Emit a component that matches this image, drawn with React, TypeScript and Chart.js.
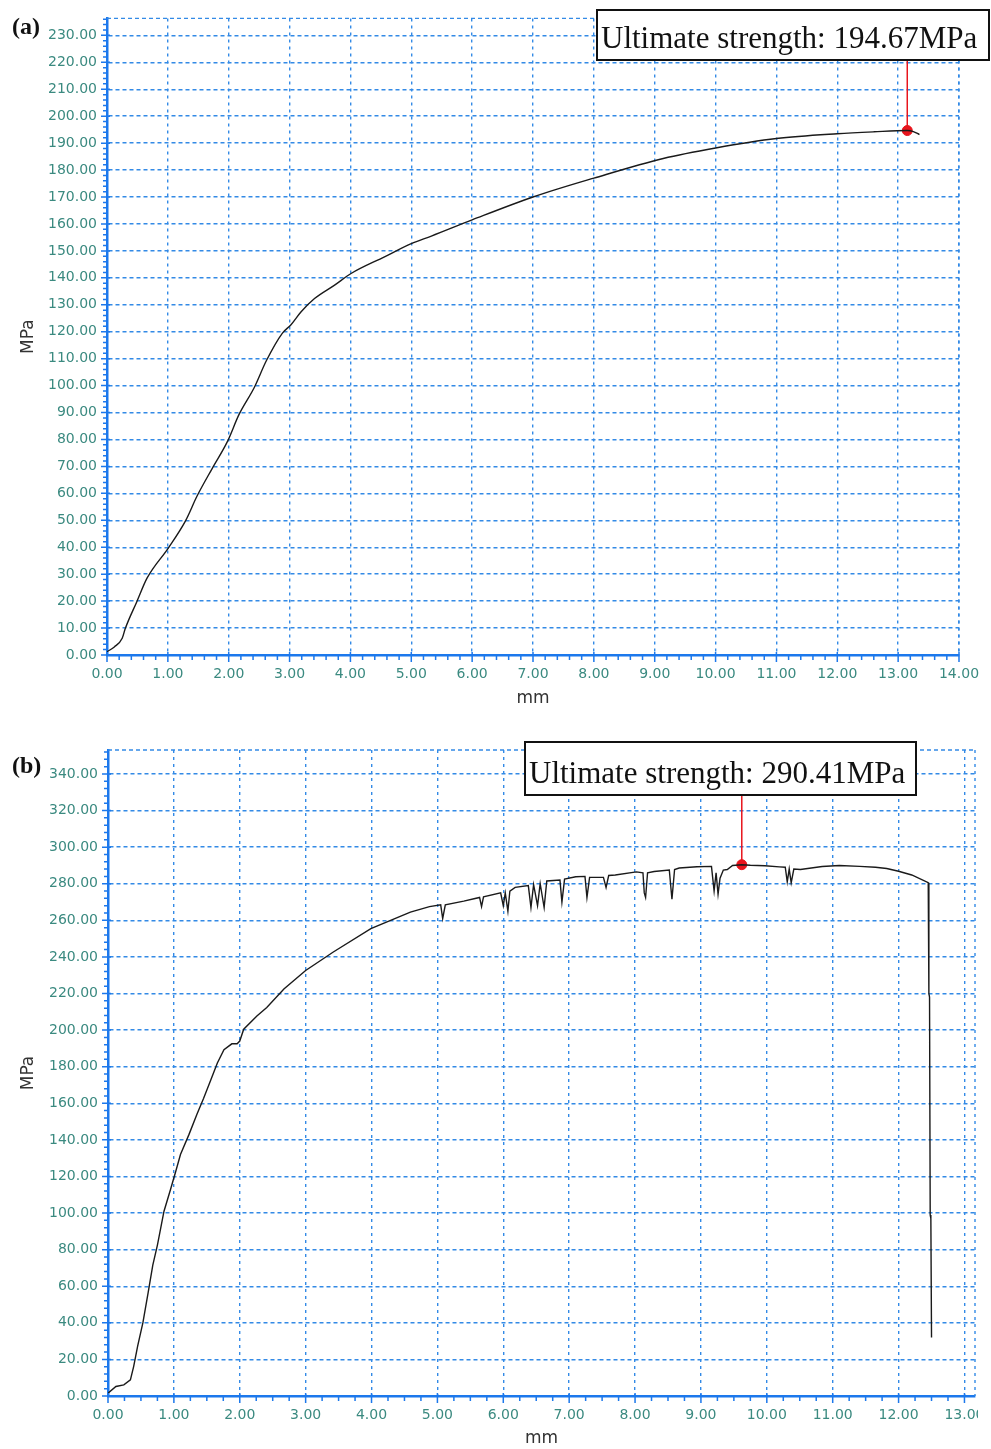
import React, { useEffect, useRef } from "react";
import { Chart, registerables } from "chart.js";

Chart.register(...registerables);

// ---------- data ----------
const displacementA = [
  0, 0.12, 0.25, 0.3, 0.49, 0.66, 1.01, 1.29, 1.48, 1.73, 1.98, 2.17, 2.42, 2.62, 2.88, 3.02,
  3.19, 3.41, 3.74, 4.01, 4.56, 5.0, 5.33, 6.0, 7.0, 8.0, 9.14, 10.0, 11.0, 12.0, 12.6, 13.15,
  13.25, 13.35,
];
const stressA = [
  1.2, 3.0, 6.2, 9.8, 19.8, 28.6, 39.8, 49.8, 59.0, 69.3, 79.3, 89.3, 99.3, 109.3, 119.4, 122.5,
  127.4, 132.3, 137.3, 141.6, 147.8, 152.7, 155.5, 161.5, 170.0, 177.0, 184.3, 188.2, 191.7,
  193.5, 194.2, 194.67, 194.3, 193.2,
];

const displacementB = [
  0, 0.12, 0.24, 0.34, 0.39, 0.45, 0.53, 0.61, 0.68, 0.75, 0.85, 0.95, 1.03, 1.1, 1.23, 1.35,
  1.45, 1.56, 1.66, 1.76, 1.88, 1.96, 2.0, 2.06, 2.26, 2.41, 2.67, 3.0, 3.42, 3.99, 4.59, 4.88,
  5.05, 5.08, 5.12, 5.4, 5.64, 5.67, 5.7, 5.96, 6.0, 6.03, 6.07, 6.1, 6.18, 6.38, 6.42, 6.46,
  6.52, 6.56, 6.62, 6.66, 6.86, 6.89, 6.93, 7.1, 7.24, 7.27, 7.31, 7.52, 7.56, 7.6, 7.7, 8.02,
  8.12, 8.14, 8.16, 8.19, 8.29, 8.52, 8.56, 8.6, 8.67, 8.94, 9.16, 9.2, 9.23, 9.26, 9.29, 9.34,
  9.4, 9.48, 9.62, 9.75, 9.97, 10.19, 10.28, 10.31, 10.34, 10.37, 10.41, 10.51, 10.84, 11.1,
  11.41, 11.65, 11.82, 12.0, 12.2, 12.45, 12.46, 12.47, 12.48, 12.49, 12.5,
];
const stressB = [
  1.5, 5.2, 6.1, 8.8, 16.2, 27.3, 40.1, 56.7, 71.5, 82.5, 101, 113, 123, 132, 143, 154, 162.6,
  172.7, 182, 189.3, 192.5, 192.5, 194, 200.5, 207.7, 212.3, 222.5, 232.6, 242.7, 255.5, 264.5,
  267.5, 268.5, 261, 268.5, 270.5, 272.5, 267.5, 272.8, 275, 268, 275, 265, 276, 278, 279, 267,
  279.5, 268, 280, 267, 281.5, 282, 270, 282.5, 283.8, 284, 272.5, 283.5, 283.5, 278, 284.5,
  284.8, 286.5, 286, 275, 272.5, 286, 286.7, 287.5, 271.5, 287.8, 288.6, 289.3, 289.5, 276, 286,
  274.3, 283, 287.5, 287.8, 290, 290.41, 290.1, 289.8, 289.2, 289, 281, 288, 280.5, 288, 287.8,
  289.4, 290, 289.5, 289, 288.3, 286.8, 284.8, 280.6, 220, 218, 99, 97, 32,
];

const peakA = { x: 13.15, y: 194.67 };
const peakB = { x: 9.62, y: 290.41 };
const labelA = "Ultimate strength: 194.67MPa";
const labelB = "Ultimate strength: 290.41MPa";
const xTitle = "mm";
const yTitle = "MPa";

// ---------- styles ----------
const AXIS_BLUE = "#1c78ec";
const GRID_BLUE = "#338ae6";
const TICK_TEAL = "#3b8a80";
const TICK_FONT = "'DejaVu Sans', Verdana, sans-serif";
const SERIF = "'Liberation Serif', 'Times New Roman', serif";

type Spec = {
  id: string;
  width: number;
  height: number;
  padTop: number;
  padRight: number;
  yWidth: number;
  xHeight: number;
  xMax: number;
  yMax: number;
  xStep: number;
  yStep: number;
  xMinor: number;
  yMinor: number;
  xTitlePadBottom: number;
  panel: string;
  panelX: number;
  panelY: number;
  box: { l: number; t: number; w: number; h: number; base: number };
  xs: number[];
  ys: number[];
  peak: { x: number; y: number };
  label: string;
  smooth: boolean;
};

const decorPlugin = {
  id: "decor",
  beforeDatasetsDraw(chart: any, _args: any, opts: any) {
    const { ctx, chartArea: a } = chart;
    ctx.save();
    ctx.strokeStyle = GRID_BLUE;
    ctx.lineWidth = 1.4;
    ctx.setLineDash([4, 3]);
    ctx.beginPath();
    ctx.moveTo(a.left, a.top);
    ctx.lineTo(a.right, a.top);
    ctx.stroke();
    ctx.setLineDash([3, 4]);
    ctx.beginPath();
    ctx.moveTo(a.right, a.top);
    ctx.lineTo(a.right, a.bottom);
    ctx.stroke();
    ctx.restore();

    const spec: Spec = opts.spec;
    const px = chart.scales.x.getPixelForValue(spec.peak.x);
    const py = chart.scales.y.getPixelForValue(spec.peak.y);
    ctx.save();
    ctx.strokeStyle = "#e8141c";
    ctx.lineWidth = 1.5;
    ctx.beginPath();
    ctx.moveTo(px, spec.box.t + spec.box.h);
    ctx.lineTo(px, py);
    ctx.stroke();
    ctx.restore();
  },
  afterDraw(chart: any, _args: any, opts: any) {
    const spec: Spec = opts.spec;
    const { ctx, chartArea: a } = chart;
    const xs = chart.scales.x;
    const ys = chart.scales.y;
    ctx.save();
    ctx.strokeStyle = AXIS_BLUE;
    ctx.lineWidth = 1.5;
    ctx.beginPath();
    const nx = Math.round(spec.xMax / spec.xMinor + 1e-6);
    for (let i = 0; i <= nx; i++) {
      const v = Math.round(i * spec.xMinor * 1000) / 1000;
      if (v > spec.xMax + 1e-9) break;
      const p = xs.getPixelForValue(v);
      const r = v / spec.xStep;
      const major = Math.abs(r - Math.round(r)) < 1e-6;
      ctx.moveTo(p, a.bottom + (major ? -3 : 0));
      ctx.lineTo(p, a.bottom + (major ? 7 : 5));
    }
    const ny = Math.round(spec.yMax / spec.yMinor + 1e-6);
    for (let i = 0; i <= ny; i++) {
      const v = Math.round(i * spec.yMinor * 1000) / 1000;
      if (v > spec.yMax + 1e-9) break;
      const p = ys.getPixelForValue(v);
      const r = v / spec.yStep;
      const major = Math.abs(r - Math.round(r)) < 1e-6;
      ctx.moveTo(a.left + (major ? 3 : 0), p);
      ctx.lineTo(a.left - (major ? 6 : 4), p);
    }
    ctx.stroke();
    ctx.restore();

    ctx.save();
    ctx.fillStyle = "#111";
    ctx.font = `bold 24px ${SERIF}`;
    ctx.textBaseline = "alphabetic";
    ctx.textAlign = "left";
    ctx.fillText(spec.panel, spec.panelX, spec.panelY);
    ctx.restore();

    const b = spec.box;
    ctx.save();
    ctx.fillStyle = "#ffffff";
    ctx.fillRect(b.l, b.t, b.w, b.h);
    ctx.strokeStyle = "#111";
    ctx.lineWidth = 2;
    ctx.strokeRect(b.l, b.t, b.w, b.h);
    ctx.fillStyle = "#111";
    ctx.font = `31px ${SERIF}`;
    ctx.textBaseline = "alphabetic";
    ctx.textAlign = "left";
    ctx.fillText(spec.label, b.l + 4, b.base);
    ctx.restore();
  },
};

function buildConfig(spec: Spec): any {
  const points = spec.xs.map((x, i) => ({ x, y: spec.ys[i] }));
  return {
    type: "line",
    data: {
      datasets: [
        {
          data: points,
          borderColor: "#1a1a1a",
          borderWidth: 1.4,
          pointRadius: 0,
          tension: 0,
          cubicInterpolationMode: spec.smooth ? "monotone" : "default",
          fill: false,
        },
        {
          data: [spec.peak],
          borderColor: "#e8141c",
          backgroundColor: "#e8141c",
          pointRadius: 5,
          pointHoverRadius: 5,
          showLine: false,
        },
      ],
    },
    options: {
      animation: false,
      responsive: false,
      events: [],
      layout: { padding: { top: spec.padTop, right: spec.padRight, left: 0, bottom: 0 } },
      plugins: {
        legend: { display: false },
        tooltip: { enabled: false },
        title: { display: false },
        decor: { spec },
      },
      scales: {
        x: {
          type: "linear",
          min: 0,
          max: spec.xMax,
          afterFit: (s: any) => {
            s.height = spec.xHeight;
          },
          ticks: {
            stepSize: spec.xStep,
            includeBounds: false,
            autoSkip: false,
            maxRotation: 0,
            padding: 11,
            color: TICK_TEAL,
            font: { family: TICK_FONT, size: 14 },
            callback: (v: any) => Number(v).toFixed(2),
          },
          grid: { color: GRID_BLUE, lineWidth: 1.4, drawTicks: false },
          border: { display: true, color: AXIS_BLUE, width: 2.5, dash: [3, 4] },
          title: {
            display: true,
            text: xTitle,
            color: "#333",
            font: { family: TICK_FONT, size: 17 },
            padding: { top: 0, bottom: spec.xTitlePadBottom },
          },
        },
        y: {
          type: "linear",
          min: 0,
          max: spec.yMax,
          afterFit: (s: any) => {
            s.width = spec.yWidth;
          },
          ticks: {
            stepSize: spec.yStep,
            includeBounds: false,
            autoSkip: false,
            padding: 10,
            color: TICK_TEAL,
            font: { family: TICK_FONT, size: 14 },
            callback: (v: any) => Number(v).toFixed(2),
          },
          grid: { color: GRID_BLUE, lineWidth: 1.4, drawTicks: false },
          border: { display: true, color: AXIS_BLUE, width: 2.5, dash: [4, 3] },
          title: {
            display: true,
            text: yTitle,
            color: "#333",
            font: { family: TICK_FONT, size: 17 },
            padding: { top: 18, bottom: 0 },
          },
        },
      },
    },
    plugins: [decorPlugin],
  };
}

const specA: Spec = {
  id: "a",
  width: 991,
  height: 725,
  padTop: 18,
  padRight: 32,
  yWidth: 107,
  xHeight: 70,
  xMax: 14,
  yMax: 236.3,
  xStep: 1,
  yStep: 10,
  xMinor: 0.2,
  yMinor: 2,
  xTitlePadBottom: 16.5,
  panel: "(a)",
  panelX: 12,
  panelY: 34,
  box: { l: 597, t: 10, w: 392, h: 50, base: 47.5 },
  xs: displacementA,
  ys: stressA,
  peak: peakA,
  label: labelA,
  smooth: true,
};

const specB: Spec = {
  id: "b",
  width: 1020,
  height: 724,
  padTop: 25,
  padRight: 45,
  yWidth: 108,
  xHeight: 53,
  xMax: 13.16,
  yMax: 353.1,
  xStep: 1,
  yStep: 20,
  xMinor: 0.25,
  yMinor: 4,
  xTitlePadBottom: 0,
  panel: "(b)",
  panelX: 12,
  panelY: 48,
  box: { l: 525, t: 17, w: 391, h: 53, base: 58 },
  xs: displacementB,
  ys: stressB,
  peak: peakB,
  label: labelB,
  smooth: false,
};

function Panel({ spec }: { spec: Spec }) {
  const ref = useRef<HTMLCanvasElement>(null);
  useEffect(() => {
    if (!ref.current) return;
    const chart = new Chart(ref.current, buildConfig(spec));
    return () => chart.destroy();
  }, [spec]);
  return (
    <canvas
      ref={ref}
      width={spec.width}
      height={spec.height}
      style={{ display: "block", width: spec.width, height: spec.height }}
    />
  );
}

export default function App() {
  return (
    <div
      style={{
        position: "absolute",
        left: 0,
        top: 0,
        width: 991,
        height: 1449,
        background: "#ffffff",
        overflow: "hidden",
      }}
    >
      <div style={{ position: "absolute", left: 0, top: 0, width: 991, height: 725 }}>
        <Panel spec={specA} />
      </div>
      <div
        style={{
          position: "absolute",
          left: 0,
          top: 725,
          width: 978,
          height: 724,
          overflow: "hidden",
        }}
      >
        <Panel spec={specB} />
      </div>
    </div>
  );
}
